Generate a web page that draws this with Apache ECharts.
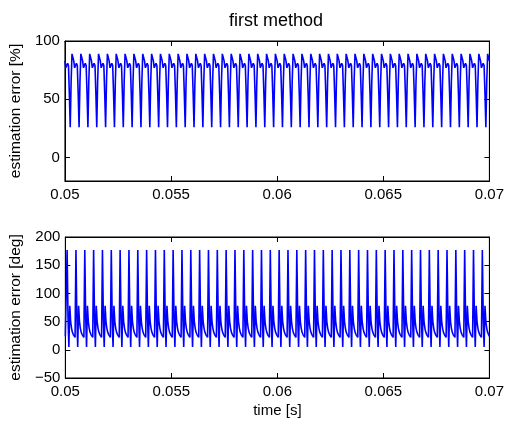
<!DOCTYPE html>
<html>
<head>
<meta charset="utf-8">
<script src="https://cdn.jsdelivr.net/npm/echarts@6/dist/echarts.min.js"></script>
<style>html,body{margin:0;padding:0;background:#fff}#c{width:507px;height:421px}</style>
</head>
<body>
<div id="c"></div>
<script>
// sampling grid (time axis)
const t0 = 0.05;
const dt = 0.02 / 480;
const xTicks = [0.05, 0.055, 0.06, 0.065, 0.07];
const yTicksTop = [0, 50, 100];
const yTicksBottom = [-50, 0, 50, 100, 150, 200];

// estimation error [%]
const errPct = [
83,77,76,81,79,55,26,65,89,88,83,77,76,81,79,55,26,65,89,88,83,77,76,81,79,55,26,65,89,88,83,77,76,81,79,55,26,65,89,88,
83,77,76,81,79,55,26,65,89,88,83,77,76,81,79,55,26,65,89,88,83,77,76,81,79,55,26,65,89,88,83,77,76,81,79,55,26,65,89,88,
83,77,76,81,79,55,26,65,89,88,83,77,76,81,79,55,26,65,89,88,83,77,76,81,79,55,26,65,89,88,83,77,76,81,79,55,26,65,89,88,
83,77,76,81,79,55,26,65,89,88,83,77,76,81,79,55,26,65,89,88,83,77,76,81,79,55,26,65,89,88,83,77,76,81,79,55,26,65,89,88,
83,77,76,81,79,55,26,65,89,88,83,77,76,81,79,55,26,65,89,88,83,77,76,81,79,55,26,65,89,88,83,77,76,81,79,55,26,65,89,88,
83,77,76,81,79,55,26,65,89,88,83,77,76,81,79,55,26,65,89,88,83,77,76,81,79,55,26,65,89,88,83,77,76,81,79,55,26,65,89,88,
83,77,76,81,79,55,26,65,89,88,83,77,76,81,79,55,26,65,89,88,83,77,76,81,79,55,26,65,89,88,83,77,76,81,79,55,26,65,89,88,
83,77,76,81,79,55,26,65,89,88,83,77,76,81,79,55,26,65,89,88,83,77,76,81,79,55,26,65,89,88,83,77,76,81,79,55,26,65,89,88,
83,77,76,81,79,55,26,65,89,88,83,77,76,81,79,55,26,65,89,88,83,77,76,81,79,55,26,65,89,88,83,77,76,81,79,55,26,65,89,88,
83,77,76,81,79,55,26,65,89,88,83,77,76,81,79,55,26,65,89,88,83,77,76,81,79,55,26,65,89,88,83,77,76,81,79,55,26,65,89,88,
83,77,76,81,79,55,26,65,89,88,83,77,76,81,79,55,26,65,89,88,83,77,76,81,79,55,26,65,89,88,83,77,76,81,79,55,26,65,89,88,
83,77,76,81,79,55,26,65,89,88,83,77,76,81,79,55,26,65,89,88,83,77,76,81,79,55,26,65,89,88,83,77,76,81,79,55,26,65,89,88,
83
];

// estimation error [deg]
const errDeg = [
24,22,177,60,5,78,50,38,31,27,24,22,177,60,5,78,50,38,31,27,24,22,177,60,5,78,50,38,31,27,24,22,177,60,5,78,50,38,31,27,
24,22,177,60,5,78,50,38,31,27,24,22,177,60,5,78,50,38,31,27,24,22,177,60,5,78,50,38,31,27,24,22,177,60,5,78,50,38,31,27,
24,22,177,60,5,78,50,38,31,27,24,22,177,60,5,78,50,38,31,27,24,22,177,60,5,78,50,38,31,27,24,22,177,60,5,78,50,38,31,27,
24,22,177,60,5,78,50,38,31,27,24,22,177,60,5,78,50,38,31,27,24,22,177,60,5,78,50,38,31,27,24,22,177,60,5,78,50,38,31,27,
24,22,177,60,5,78,50,38,31,27,24,22,177,60,5,78,50,38,31,27,24,22,177,60,5,78,50,38,31,27,24,22,177,60,5,78,50,38,31,27,
24,22,177,60,5,78,50,38,31,27,24,22,177,60,5,78,50,38,31,27,24,22,177,60,5,78,50,38,31,27,24,22,177,60,5,78,50,38,31,27,
24,22,177,60,5,78,50,38,31,27,24,22,177,60,5,78,50,38,31,27,24,22,177,60,5,78,50,38,31,27,24,22,177,60,5,78,50,38,31,27,
24,22,177,60,5,78,50,38,31,27,24,22,177,60,5,78,50,38,31,27,24,22,177,60,5,78,50,38,31,27,24,22,177,60,5,78,50,38,31,27,
24,22,177,60,5,78,50,38,31,27,24,22,177,60,5,78,50,38,31,27,24,22,177,60,5,78,50,38,31,27,24,22,177,60,5,78,50,38,31,27,
24,22,177,60,5,78,50,38,31,27,24,22,177,60,5,78,50,38,31,27,24,22,177,60,5,78,50,38,31,27,24,22,177,60,5,78,50,38,31,27,
24,22,177,60,5,78,50,38,31,27,24,22,177,60,5,78,50,38,31,27,24,22,177,60,5,78,50,38,31,27,24,22,177,60,5,78,50,38,31,27,
24,22,177,60,5,78,50,38,31,27,24,22,177,60,5,78,50,38,31,27,24,22,177,60,5,78,50,38,31,27,24,22,177,60,5,78,50,38,31,27,
24
];

const FONT = 'Liberation Sans, Arial, Helvetica, sans-serif';
const AX = '#000';
const fmtX = v => String(parseFloat(v.toFixed(4)));
const fmtY = v => (v < 0 ? '\u2212' + Math.abs(v) : String(v));

function xAx(grid, pos, labels, name) {
  return {
    type: 'value', gridIndex: grid, position: pos, min: 0.05, max: 0.07, interval: 0.005,
    axisLine: { show: true, onZero: false, lineStyle: { color: AX, width: 1 } },
    axisTick: { show: true, inside: true, length: 5, lineStyle: { color: AX }, customValues: xTicks },
    axisLabel: { show: labels, margin: 6, color: '#000', fontSize: 15, fontFamily: FONT, formatter: fmtX, customValues: xTicks },
    splitLine: { show: false },
    name: name || '', nameLocation: 'middle', nameGap: 25,
    nameTextStyle: { color: '#000', fontSize: 15, fontFamily: FONT }
  };
}
function yAx(grid, pos, min, max, ticks, labels, name) {
  return {
    type: 'value', gridIndex: grid, position: pos, min: min, max: max,
    axisLine: { show: true, onZero: false, lineStyle: { color: AX, width: 1 } },
    axisTick: { show: true, inside: true, length: 5, lineStyle: { color: AX }, customValues: ticks },
    axisLabel: { show: labels, margin: 5, color: '#000', fontSize: 15, fontFamily: FONT, formatter: fmtY, customValues: ticks },
    splitLine: { show: false },
    name: name || '', nameLocation: 'middle', nameGap: 35,
    nameTextStyle: { color: '#000', fontSize: 15.5, fontFamily: FONT }
  };
}

const chart = echarts.init(document.getElementById('c'), null, { renderer: 'canvas' });
chart.setOption({
  animation: false,
  backgroundColor: '#fff',
  title: {
    text: 'first method', left: 229, top: 12, padding: 0,
    textStyle: { color: '#000', fontSize: 18, fontWeight: 'normal', fontFamily: FONT }
  },
  grid: [
    { left: 62, right: 15, top: 41, height: 140, show: true, borderColor: AX, borderWidth: 1, backgroundColor: '#fff' },
    { left: 62, right: 15, top: 237, height: 141, show: true, borderColor: AX, borderWidth: 1, backgroundColor: '#fff' }
  ],
  xAxis: [
    xAx(0, 'bottom', true),
    xAx(0, 'top', false),
    xAx(1, 'bottom', true, 'time [s]'),
    xAx(1, 'top', false)
  ],
  yAxis: [
    yAx(0, 'left', -20, 100, yTicksTop, true, 'estimation error [%]'),
    yAx(0, 'right', -20, 100, yTicksTop, false),
    yAx(1, 'left', -50, 200, yTicksBottom, true, 'estimation error [deg]'),
    yAx(1, 'right', -50, 200, yTicksBottom, false)
  ],
  series: [
    {
      type: 'line', xAxisIndex: 0, yAxisIndex: 0, showSymbol: false, symbol: 'none',
      data: errPct.map((v, i) => [t0 + i * dt, v]),
      lineStyle: { color: '#0000ff', width: 1.6 }, itemStyle: { color: '#0000ff' }, clip: true
    },
    {
      type: 'line', xAxisIndex: 2, yAxisIndex: 2, showSymbol: false, symbol: 'none',
      data: errDeg.map((v, i) => [t0 + i * dt, v]),
      lineStyle: { color: '#0000ff', width: 1.6 }, itemStyle: { color: '#0000ff' }, clip: true
    }
  ]
});
</script>
</body>
</html>
